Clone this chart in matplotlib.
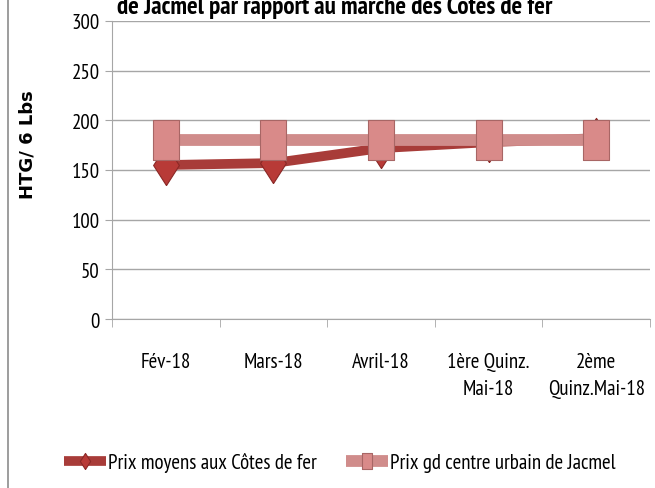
import matplotlib.pyplot as plt
from matplotlib.lines import Line2D

# Data
categories = ["Fév-18", "Mars-18", "Avril-18", "1ère Quinz.\nMai-18", "2ème\nQuinz.Mai-18"]
prix_cotes_de_fer = [155, 157, 172, 178, 182]
prix_jacmel = [180, 180, 180, 180, 180]
yticks = [0, 50, 100, 150, 200, 250, 300]

narrow = ["PT Sans Narrow", "DejaVu Sans"]

fig = plt.figure(figsize=(6.55, 4.89), dpi=100)
ax = fig.add_axes([112 / 655, 1 - 320 / 489, 538 / 655, 298 / 489])

x = list(range(len(categories)))

# tall rectangle and diamond marker shapes
rect = [(-0.33, -0.5), (0.33, -0.5), (0.33, 0.5), (-0.33, 0.5), (-0.33, -0.5)]
diamond = [(0, -0.5), (0.32, 0), (0, 0.5), (-0.32, 0), (0, -0.5)]

ax.plot(x, prix_cotes_de_fer, color="#A83C39", lw=7, marker=diamond, ms=29,
        mfc="#B83A37", mec="#8A2826", mew=0.8, zorder=3,
        label="Prix moyens aux Côtes de fer", solid_capstyle="butt")
ax.plot(x, prix_jacmel, color="#D08C8B", lw=8.5, marker=rect, ms=29,
        mfc="#D98A89", mec="#A86665", mew=0.8, zorder=4,
        label="Prix gd centre urbain de Jacmel", solid_capstyle="butt")

ax.set_xlim(-0.5, 4.5)
ax.set_ylim(0, 300)
ax.set_yticks(yticks)
ax.yaxis.grid(True, color="#A6A6A6", lw=1)
ax.set_axisbelow(True)

# category labels at centres, tick marks at category boundaries
ax.set_xticks(x)
ax.set_xticklabels(categories, fontsize=15, family=narrow, linespacing=1.5)
ax.set_xticks([i - 0.5 for i in range(len(categories) + 1)], minor=True)
ax.tick_params(axis="x", which="major", length=0, pad=24)
ax.tick_params(axis="x", which="minor", length=6, color="#A6A6A6", direction="out")
ax.tick_params(axis="y", length=5, color="#A6A6A6", pad=4)
for lab in ax.get_yticklabels():
    lab.set_fontsize(15)
    lab.set_family(narrow)

for s in ["top", "right"]:
    ax.spines[s].set_visible(False)
for s in ["left", "bottom"]:
    ax.spines[s].set_color("#A6A6A6")

ax.set_ylabel("HTG/ 6 Lbs", fontsize=13, fontweight="bold", family="DejaVu Sans")
ax.yaxis.set_label_coords(-0.14, 0.59)

# title cut off at the top of the image
fig.text(335 / 655, 1 - 14 / 489, "de Jacmel par rapport au marché des Côtes de fer",
         ha="center", va="baseline", fontsize=18, fontweight="bold", family=narrow)

leg = fig.legend(loc="center", bbox_to_anchor=(340 / 655, 1 - 463 / 489), ncol=2,
                 frameon=False, prop={"family": narrow, "size": 15},
                 handlelength=2.0, handletextpad=0.1, columnspacing=1.4, markerscale=0.4)

# chart frame line on the left
fig.add_artist(Line2D([8 / 655, 8 / 655], [0, 1], transform=fig.transFigure,
                      color="#8C8C8C", lw=1.2))

fig.savefig("out.png", dpi=100)
